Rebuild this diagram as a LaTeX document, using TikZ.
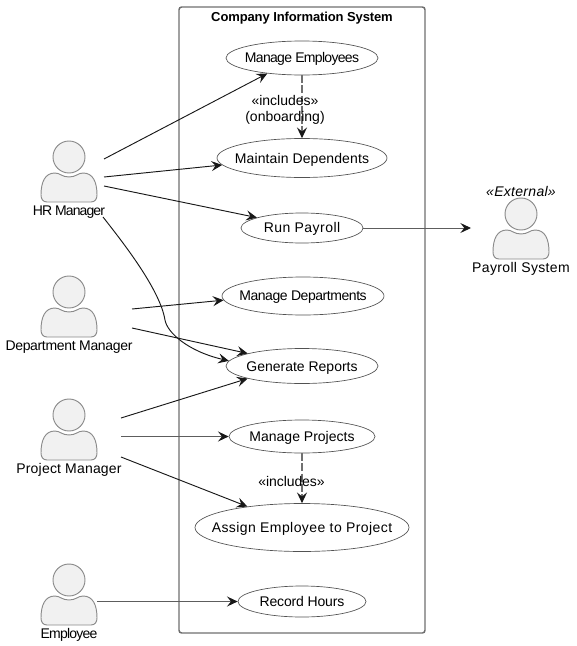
\documentclass[tikz,border=0pt]{standalone}
\usepackage{fontspec}
\setmainfont{Liberation Sans}
\usetikzlibrary{arrows.meta,shapes.geometric}
\definecolor{linec}{HTML}{181818}
\definecolor{actf}{HTML}{F1F1F1}
\definecolor{actd}{HTML}{8A8A8A}
\definecolor{boxd}{HTML}{6E6E6E}
% letter-spaced, zero-size text with its baseline #2 pt below the node centre
\newcommand{\uctext}[3]{\smash{\raisebox{-#2pt}{\makebox[0pt]{\addfontfeature{LetterSpace=#1}#3}}}}
\newcommand{\lsp}[2]{\addfontfeature{LetterSpace=#1}#2}
\tikzset{
  usecase/.style={ellipse,draw=linec!75,line width=0.5pt,fill=white,inner sep=0pt,font=\fontsize{10.5}{12}\selectfont},
  lab/.style={font=\fontsize{10.5}{12}\selectfont,text=black,inner sep=0pt,align=center},
  link/.style={draw=linec,line width=0.7pt,-{Stealth[length=8pt,width=7.5pt,inset=3pt,color=linec]}},
  hlink/.style={link,draw=linec!70},
  inc/.style={link,draw=linec!62,line width=0.8pt,dash pattern=on 6pt off 1.6pt},
  actorpart/.style={draw=actd,fill=actf,line width=0.7pt},
  actor/.pic={
    \node[circle,actorpart,minimum size=24pt,inner sep=0pt] (-head) at (0,0) {};
    \path[actorpart] (-28,38) .. controls (-28,25) and (-24,16) .. (-14,16)
      .. controls (-9,16) and (-7,20) .. (0,20)
      .. controls (7,20) and (9,16) .. (14,16)
      .. controls (24,16) and (28,25) .. (28,38)
      .. controls (28,42) and (26,45) .. (22,45)
      -- (-22,45) .. controls (-26,45) and (-28,42) .. (-28,38) -- cycle;
  }
}
\begin{document}
\begin{tikzpicture}[x=0.75pt,y=-0.75pt]
\useasboundingbox (0,0) rectangle (577,646);
\node[draw=boxd,line width=1.1pt,rounded corners=2pt,minimum width=184.5pt,minimum height=469.5pt,inner sep=0pt] (sys) at (302,320) {};
\node[lab,font=\fontsize{9.75}{12}\selectfont\bfseries] (systitle) at (302,18.5) {\lsp{-0.9}{Company Information System}};

\node[usecase,minimum width=114pt,minimum height=25.5pt] (me) at (302,58) {\uctext{-4.9}{3.2}{Manage Employees}};
\node[usecase,minimum width=127.5pt,minimum height=29.25pt] (md) at (302,158) {\uctext{0.75}{3.75}{Maintain Dependents}};
\node[usecase,minimum width=91.5pt,minimum height=22.5pt] (rp) at (302,228) {\uctext{3.2}{3.2}{Run Payroll}};
\node[usecase,minimum width=121.5pt,minimum height=28.5pt] (mdp) at (303,296) {\uctext{-3.2}{3.4}{Manage Departments}};
\node[usecase,minimum width=114pt,minimum height=26.25pt] (gr) at (302,366) {\uctext{0}{3.75}{Generate Reports}};
\node[usecase,minimum width=109.5pt,minimum height=24.75pt] (mp) at (302,436.5) {\uctext{0}{3.4}{Manage Projects}};
\node[usecase,minimum width=160.5pt,minimum height=36pt] (ae) at (302,527.5) {\uctext{3}{3.4}{Assign Employee to Project}};
\node[usecase,minimum width=96pt,minimum height=23.25pt] (rh) at (302,601.5) {\uctext{-1.2}{3.4}{Record Hours}};

\pic (hr) at (69,157) {actor};
\pic (dm) at (69,292) {actor};
\pic (pm) at (69,415) {actor};
\pic (em) at (69,580) {actor};
\pic (ps) at (521,214) {actor};

\node[lab] (hrl) at (69,212) {\lsp{-6.5}{HR Manager}};
\node[lab] (dml) at (69,347) {\lsp{-2.4}{Department Manager}};
\node[lab] (pml) at (69,470) {\lsp{1.4}{Project Manager}};
\node[lab] (eml) at (69,635) {\lsp{-5.4}{Employee}};
\node[lab] (psl) at (521,269) {\lsp{2.5}{Payroll System}};
\node[lab,font=\fontsize{10.5}{12}\selectfont\itshape] (pss) at (521,191) {\lsp{2.1}{«External»}};

\coordinate (hr1) at (104,159);
\coordinate (hr2) at (104,177);
\coordinate (hr3) at (104,186);
\coordinate (hr4) at (103,217);
\coordinate (hr5) at (165,320);
\coordinate (dm1) at (132,309);
\coordinate (dm2) at (132,328);
\coordinate (pm1) at (121,418);
\coordinate (pm2) at (121,436.5);
\coordinate (pm3) at (121,457);
\coordinate (em1) at (97,601.5);
\coordinate (ps1) at (471,228);

\draw[link] (hr1) -- (me.204);
\draw[link] (hr2) -- (md.185.7);
\draw[link] (hr3) -- (rp.167);
\draw[link] (hr4) .. controls (125,245) and (160,290) .. (hr5) .. controls (167,332) and (187,351) .. (gr.176);
\draw[link] (dm1) -- (mdp.183.7);
\draw[link] (dm2) -- (gr.167.7);
\draw[link] (pm1) -- (gr.193.8);
\draw[hlink] (pm2) -- (mp.west);
\draw[link] (pm3) -- (ae.159);
\draw[hlink] (em1) -- (rh.west);
\draw[hlink] (rp.east) -- (ps1);
\draw[inc] (me.south) -- (md.north);
\draw[inc] (mp.south) -- (ae.north);

\node[lab] (l1) at (285,110) {«includes»\\(onboarding)};
\node[lab] (l2) at (291.5,481) {\lsp{-0.5}{«includes»}};
\end{tikzpicture}
\end{document}
